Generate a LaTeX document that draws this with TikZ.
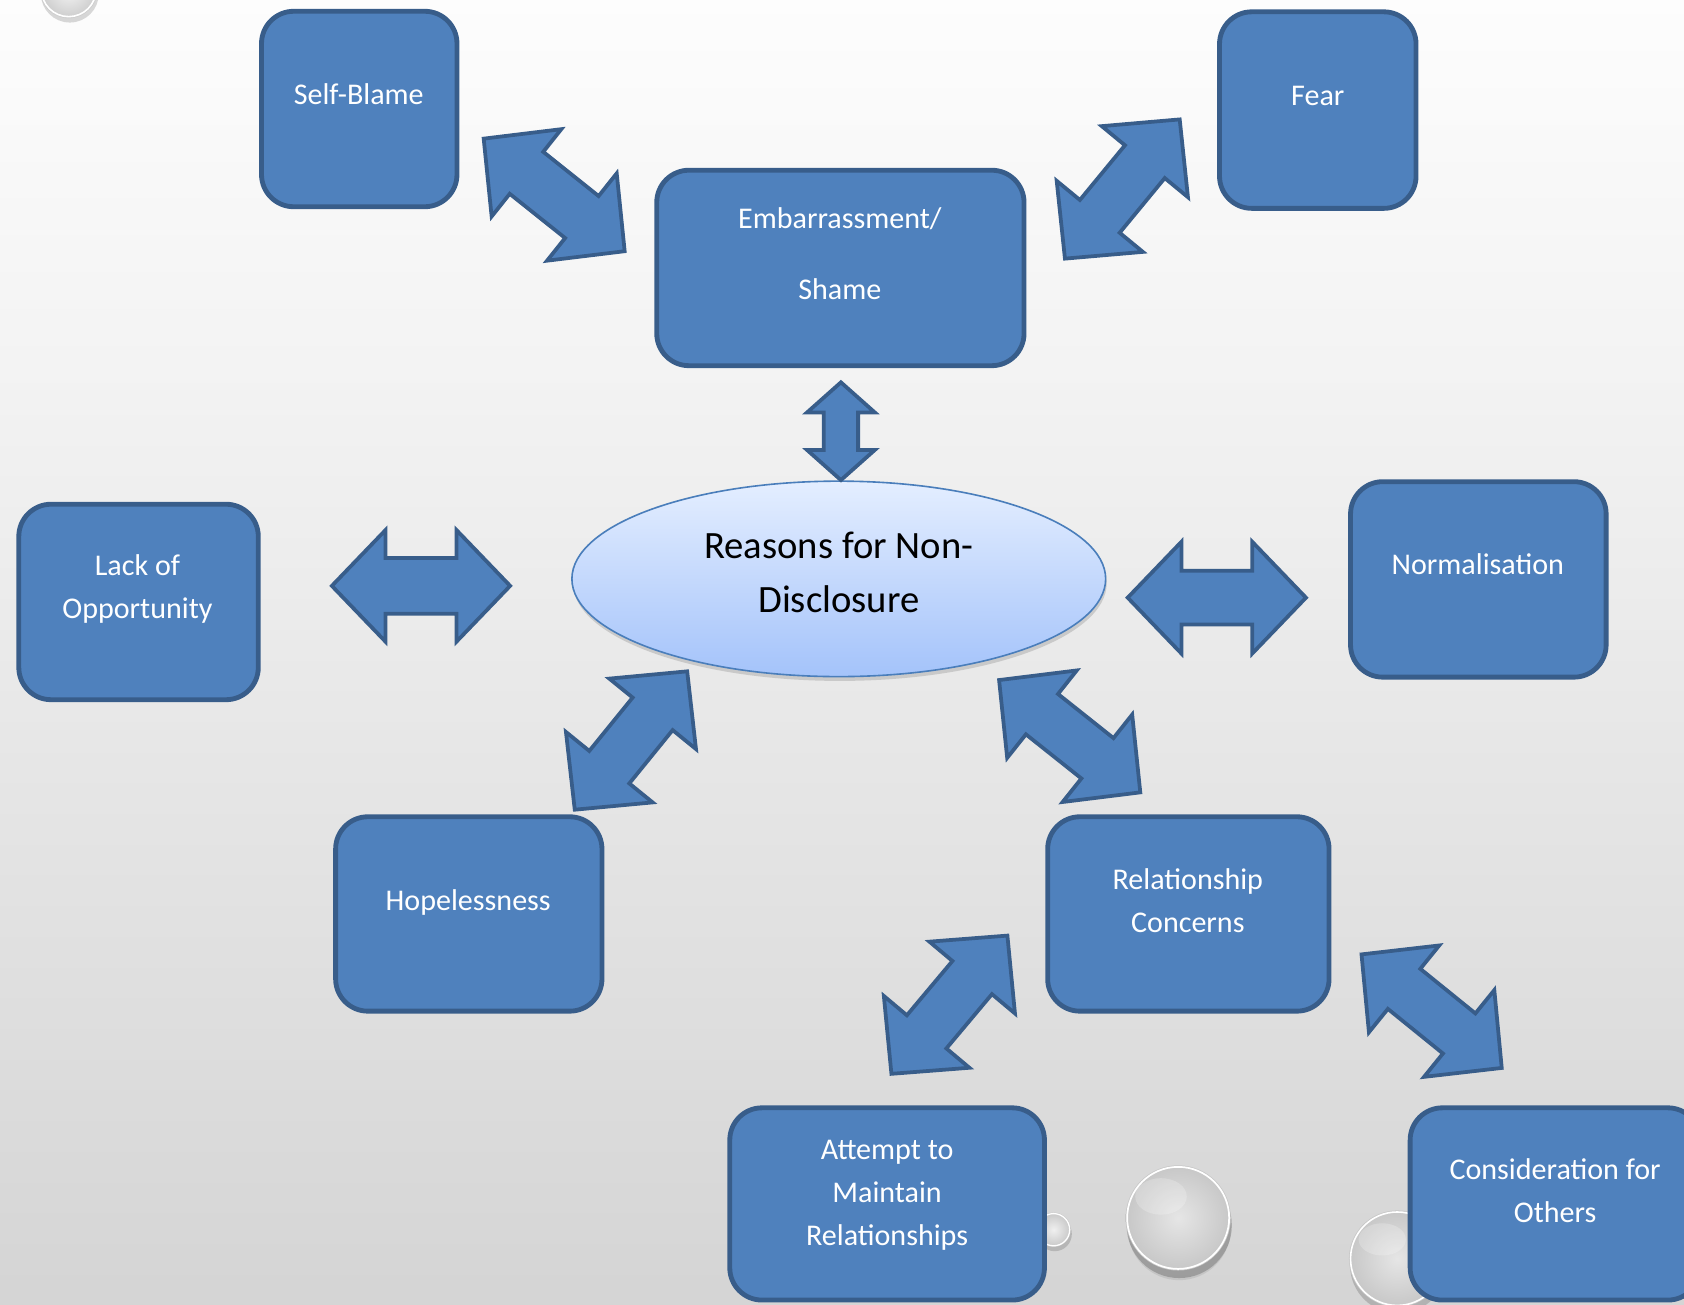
\documentclass[tikz,border=0pt]{standalone}
\usepackage{fontspec}
\setmainfont{Carlito}
\usetikzlibrary{shapes.geometric,shadows}
\definecolor{boxfill}{HTML}{4F81BD}
\definecolor{boxline}{HTML}{385D8A}
\definecolor{elltop}{HTML}{E4EEFF}
\definecolor{ellbot}{HTML}{A4C3FA}
\definecolor{ellline}{HTML}{4A7EBB}
\pgfdeclareverticalshading{bgshade}{100bp}{color(0bp)=(black!25); color(30bp)=(black!15); color(60bp)=(black!5); color(78bp)=(white); color(100bp)=(white)}
\tikzset{
  box/.style={rectangle, draw=boxline, fill=boxfill, line width=4.5pt, rounded corners=30pt, inner sep=0pt},
  lbl/.style={text=white, font=\fontsize{28}{40}\selectfont, align=center, inner sep=0pt},
  blockarrow/.style={draw=boxline, fill=boxfill, line width=3.5pt, line join=miter},
  pics/dbl/.style args={#1/#2/#3/#4}{code={
    \path[blockarrow] (-#1/2,0) -- (-#1/2+#2,#3/2) -- (-#1/2+#2,#4/2) -- (#1/2-#2,#4/2) -- (#1/2-#2,#3/2)
      -- (#1/2,0) -- (#1/2-#2,-#3/2) -- (#1/2-#2,-#4/2) -- (-#1/2+#2,-#4/2) -- (-#1/2+#2,-#3/2) -- cycle;
  }}
}
\begin{document}
\begin{tikzpicture}[x=1pt, y=-1pt]
\clip (0,0) rectangle (1568,1215);
\useasboundingbox (0,0) rectangle (1568,1215);
\shade[shading=bgshade] (0,0) rectangle (1568,1215);

% decorative bubbles
\begin{scope}[shift={(64,-10)}]
  \fill[black, opacity=0.15] (1,4) circle (27);
  \shade[inner color=black!4, outer color=black!20] (0,0) circle (27);
  \draw[white, line width=1.5pt] (0,0) circle (25.5);
\end{scope}
\begin{scope}[shift={(981,1145)}]
  \fill[black, opacity=0.15] (1,4) circle (16);
  \shade[inner color=black!6, outer color=black!22] (0,0) circle (16);
  \draw[white, line width=1.2pt] (0,0) circle (15);
\end{scope}
\begin{scope}[shift={(1097,1134)}]
  \fill[black, opacity=0.20] (1,7) circle (49);
  \fill[black, opacity=0.08] (1,10) circle (48);
  \shade[inner color=black!10, outer color=black!22] (0,0) circle (49);
  \fill[white, opacity=0.22] (-16,-20) ellipse (24 and 17);
  \draw[white, line width=1.6pt] (0,0) circle (47.5);
\end{scope}
\begin{scope}[shift={(1301,1172)}]
  \fill[black, opacity=0.16] (1,6) circle (45);
  \shade[inner color=black!10, outer color=black!22] (0,0) circle (45);
  \fill[white, opacity=0.22] (-14,-18) ellipse (22 and 15);
  \draw[white, line width=1.5pt] (0,0) circle (43.5);
\end{scope}

% boxes
\node[box, minimum width=182pt, minimum height=182pt] (sb) at (334.5,101.5) {};
\node[lbl] (sbt) at (334,88) {Self-Blame};
\node[box, minimum width=183pt, minimum height=183pt] (fear) at (1227,102.5) {};
\node[lbl] (feart) at (1227,89) {Fear};
\node[box, minimum width=342pt, minimum height=182pt] (emb) at (782.5,249.5) {};
\node[lbl] (embt) at (782,236) {Embarrassment/\\[26pt]Shame};
\node[box, minimum width=223pt, minimum height=182pt] (lack) at (129,560.5) {};
\node[lbl] (lackt) at (128,548) {Lack of\\Opportunity};
\node[box, minimum width=238pt, minimum height=182pt] (norm) at (1376.5,539.5) {};
\node[lbl] (normt) at (1376,525) {Normalisation};
\node[box, minimum width=248pt, minimum height=181pt] (hope) at (436.5,851) {};
\node[lbl] (hopet) at (436,840) {Hopelessness};
\node[box, minimum width=262pt, minimum height=181pt] (rel) at (1106.5,851) {};
\node[lbl] (relt) at (1106,838.5) {Relationship\\Concerns};
\node[box, minimum width=293pt, minimum height=179pt] (att) at (826,1121) {};
\node[lbl] (attt) at (826,1113) {Attempt to\\Maintain\\Relationships};
\node[box, minimum width=270pt, minimum height=179pt] (cons) at (1448,1121) {};
\node[lbl] (const) at (1448,1109) {Consideration for\\Others};

% centre ellipse
\node[ellipse, draw=ellline, line width=1.5pt, top color=elltop, bottom color=ellbot,
      minimum width=497pt, minimum height=182pt, inner sep=0pt,
      drop shadow={opacity=0.3, shadow xshift=1pt, shadow yshift=-4pt}] (core) at (781,539) {};
\node[font=\fontsize{36}{50}\selectfont, align=center, inner sep=0pt] (coret) at (781,533) {Reasons for Non-\\Disclosure};

% block arrows
\pic[rotate=90] (a0) at (783,401.5) {dbl=91/28/63/32};
\pic (a1) at (392,545.5) {dbl=166/50/104/52};
\pic (a2) at (1133,556.5) {dbl=166/50/104/50};
\pic[rotate=-38.6] (a3) at (516,181.5) {dbl=168/51/104/50};
\pic[rotate=50.5] (a4) at (1045,176) {dbl=168/51/104/48};
\pic[rotate=50.9] (a5) at (587.5,689.5) {dbl=166/51/104/48};
\pic[rotate=-38.5] (a6) at (996,685.5) {dbl=168/51/104/48};
\pic[rotate=50] (a7) at (884,935.5) {dbl=168/51/104/48};
\pic[rotate=-39] (a8) at (1333,941.5) {dbl=168/51/104/48};
\end{tikzpicture}
\end{document}
